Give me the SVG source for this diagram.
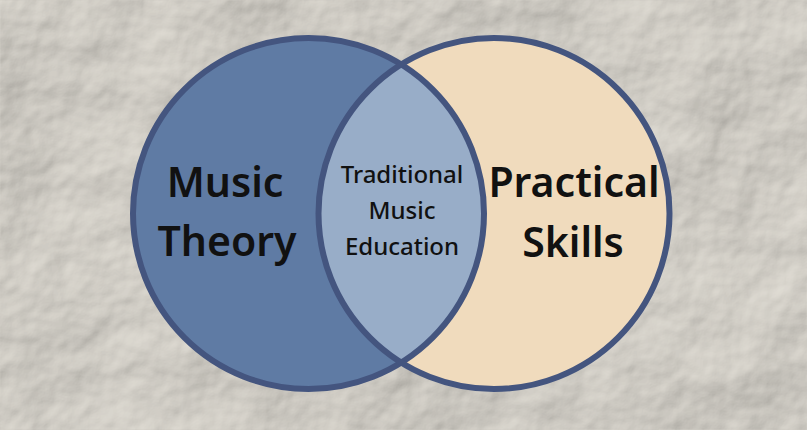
<svg xmlns="http://www.w3.org/2000/svg" width="807" height="430" viewBox="0 0 807 430">
  <defs>
    <filter id="paper" x="0" y="0" width="100%" height="100%">
      <feTurbulence type="fractalNoise" baseFrequency="0.007" numOctaves="5" seed="11" result="n"/>
      <feDiffuseLighting in="n" surfaceScale="10" lighting-color="#dfdbd3" diffuseConstant="1.06" result="l">
        <feDistantLight azimuth="235" elevation="52"/>
      </feDiffuseLighting>
      <feComposite in="l" in2="SourceGraphic" operator="in"/>
    </filter>
    <clipPath id="leftClip">
      <circle cx="308.5" cy="213.5" r="175.5"/>
    </clipPath>
  </defs>
  <style>
    .ring { fill: none; stroke: #44557f; stroke-width: 6; }
    .big { font-family: "Noto Sans", "DejaVu Sans", sans-serif; font-weight: 600; font-size: 41px; fill: #111; text-anchor: middle; }
    .mid { font-family: "Noto Sans", "DejaVu Sans", sans-serif; font-weight: 500; font-size: 24px; fill: #111; text-anchor: middle; }
  </style>
  <rect width="807" height="430" fill="#d6d2ca"/>
  <rect width="807" height="430" fill="#d6d2ca" filter="url(#paper)"/>
  <g id="music-theory">
    <circle cx="308.5" cy="213.5" r="175.5" fill="#5f7ba4"/>
  </g>
  <g id="practical-skills">
    <circle cx="494" cy="213.5" r="175.5" fill="#f0dbbd"/>
  </g>
  <g id="traditional-music-education">
    <circle cx="494" cy="213.5" r="175.5" fill="#98adc8" clip-path="url(#leftClip)"/>
  </g>
  <g id="outlines">
    <circle class="ring" cx="308.5" cy="213.5" r="175.5"/>
    <circle class="ring" cx="494" cy="213.5" r="175.5"/>
  </g>
  <g id="labels">
    <text class="big" x="225" y="197">Music</text>
    <text class="big" x="227" y="256">Theory</text>
    <text class="big" x="574" y="197">Practical</text>
    <text class="big" x="573" y="257">Skills</text>
    <text class="mid" x="402" y="183">Traditional</text>
    <text class="mid" x="402" y="219">Music</text>
    <text class="mid" x="402" y="255">Education</text>
  </g>
</svg>
